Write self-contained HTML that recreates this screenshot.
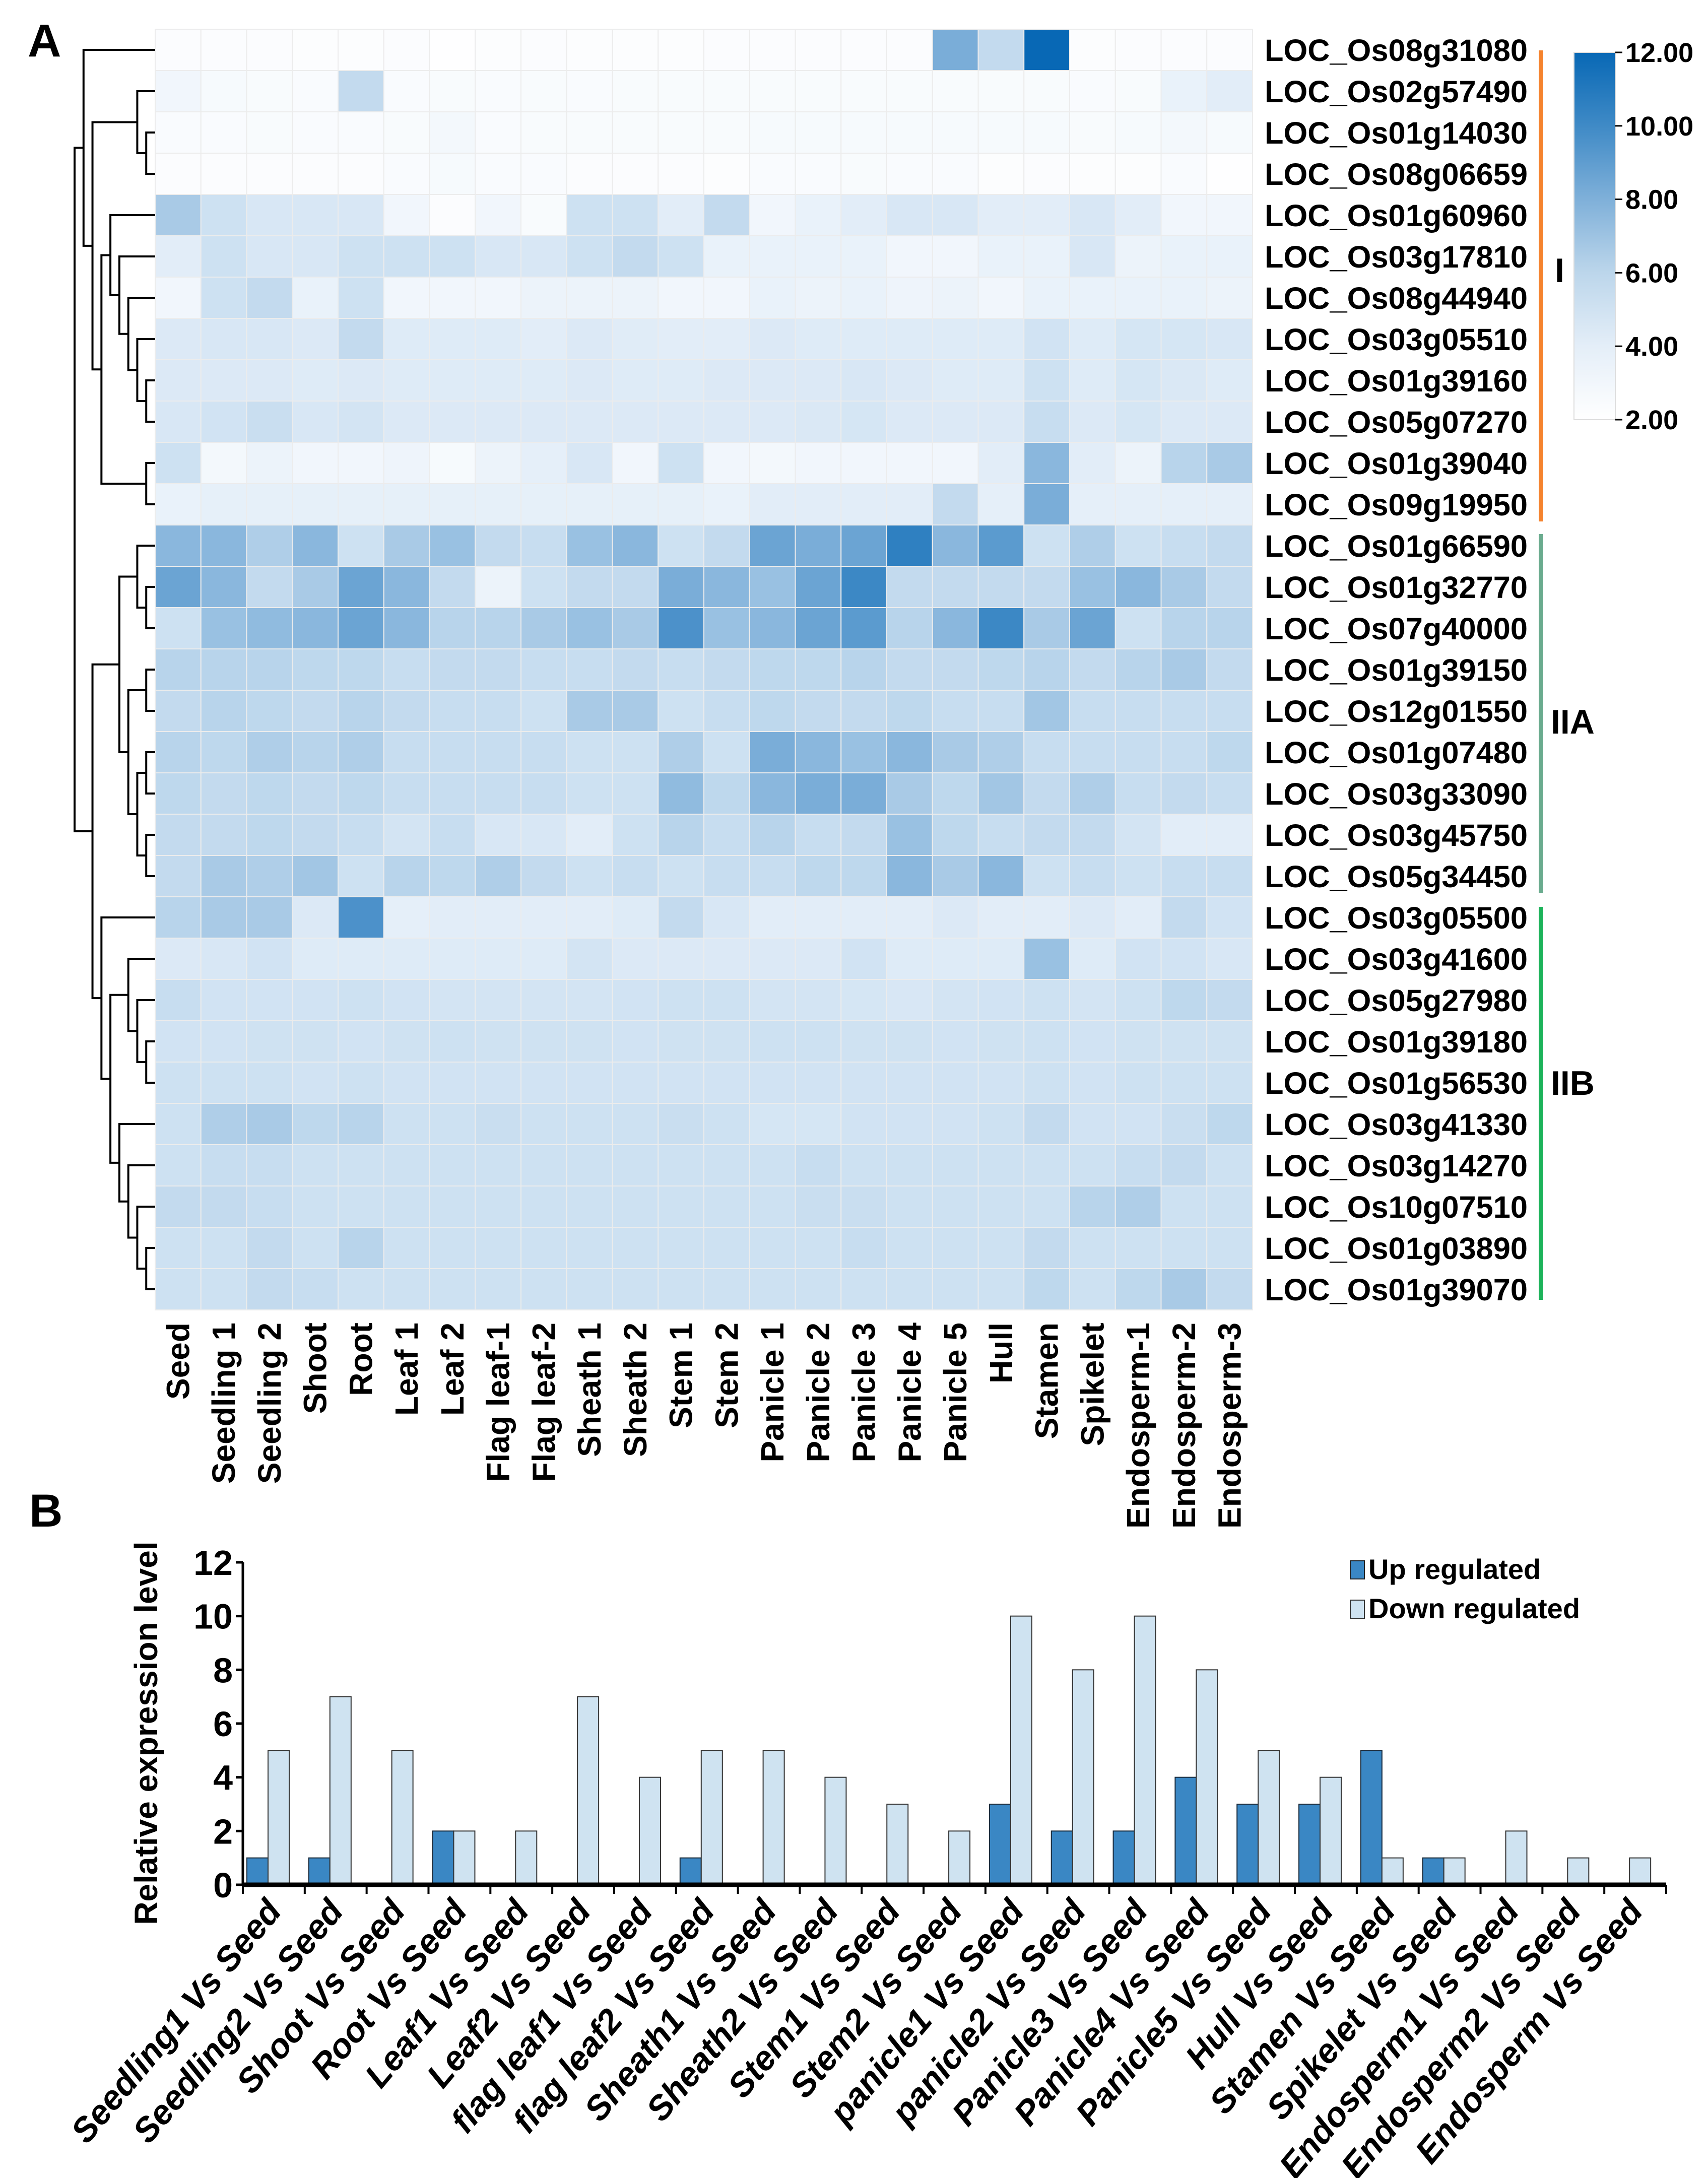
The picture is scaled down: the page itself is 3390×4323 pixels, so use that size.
<!DOCTYPE html>
<html><head><meta charset="utf-8"><style>
html,body{margin:0;padding:0;background:#fff}
svg{display:block}
text{font-family:"Liberation Sans",Arial,sans-serif;font-weight:bold;fill:#000}
</style></head><body>
<svg id="fig" width="3390" height="4323" viewBox="0 0 3390 4323" xmlns="http://www.w3.org/2000/svg">
<defs>
<linearGradient id="cbar" x1="0" y1="1" x2="0" y2="0">
<stop offset="0" stop-color="#ffffff"/><stop offset="0.2" stop-color="#e4eef8"/><stop offset="0.4" stop-color="#bcd6eb"/><stop offset="0.6" stop-color="#7fb0d9"/><stop offset="0.8" stop-color="#3f8ac6"/><stop offset="1" stop-color="#0868b5"/>
</linearGradient>
</defs>
<text x="55" y="112" font-size="92">A</text>
<text x="58" y="3030" font-size="92">B</text>
<g id="heat"></g>
<g id="dendro"></g>
<g id="rowlabels"></g>
<g id="collabels"></g>
<g>
<rect x="3124" y="104" width="82" height="729" fill="url(#cbar)" stroke="#ddd" stroke-width="2"/>
<g id="cbticks"></g>
</g>
<g>
<rect x="3054" y="100" width="9" height="935" fill="#f5832e"/>
<rect x="3054" y="1060" width="9" height="712" fill="#6aab8e"/>
<rect x="3054" y="1800" width="9" height="780" fill="#1db35a"/>
<text x="3086" y="560" font-size="68">I</text>
<text x="3078" y="1456" font-size="68">IIA</text>
<text x="3078" y="2173" font-size="68">IIB</text>
</g>
<g id="barchart"></g>
</svg>
<script>
const genes=["LOC_Os08g31080","LOC_Os02g57490","LOC_Os01g14030","LOC_Os08g06659","LOC_Os01g60960","LOC_Os03g17810","LOC_Os08g44940","LOC_Os03g05510","LOC_Os01g39160","LOC_Os05g07270","LOC_Os01g39040","LOC_Os09g19950","LOC_Os01g66590","LOC_Os01g32770","LOC_Os07g40000","LOC_Os01g39150","LOC_Os12g01550","LOC_Os01g07480","LOC_Os03g33090","LOC_Os03g45750","LOC_Os05g34450","LOC_Os03g05500","LOC_Os03g41600","LOC_Os05g27980","LOC_Os01g39180","LOC_Os01g56530","LOC_Os03g41330","LOC_Os03g14270","LOC_Os10g07510","LOC_Os01g03890","LOC_Os01g39070"];
const tissues=["Seed","Seedling 1","Seedling 2","Shoot","Root","Leaf 1","Leaf 2","Flag leaf-1","Flag leaf-2","Sheath 1","Sheath 2","Stem 1","Stem 2","Panicle 1","Panicle 2","Panicle 3","Panicle 4","Panicle 5","Hull","Stamen","Spikelet","Endosperm-1","Endosperm-2","Endosperm-3"];
const expr=[
[2.3,2.3,2.3,2.2,2.2,2.3,2.1,2.2,2.3,2.2,2.2,2.2,2.3,2.3,2.3,2.3,2.3,8,5.5,12,2.2,2.3,2.3,2.3],
[3,2.6,2.5,2.4,5.5,2.4,2.5,2.4,2.5,2.4,2.5,2.5,2.5,2.5,2.5,2.5,2.5,2.5,2.5,2.5,2.4,2.5,3.5,4],
[2.4,2.4,2.5,2.4,2.4,2.5,2.8,2.4,2.5,2.5,2.5,2.5,2.5,2.6,2.6,2.6,2.6,2.6,2.6,2.6,2.5,2.6,2.8,2.6],
[2.3,2.3,2.3,2.3,2.3,2.4,2.6,2.4,2.4,2.3,2.3,2.3,2.2,2.4,2.4,2.5,2.4,2.4,2.2,2.3,2.2,2.2,2.4,2.1],
[6.5,5,4.5,4.5,4.5,3,2.3,3,2.5,5,5,4,5.5,3,3.5,4,4.5,4.5,4,4,4.5,4,3,3],
[4,5,4.5,4.5,5,5,5,4.5,4.5,5,5.5,5,3.5,3.5,3.5,3.5,3,3,3.5,3.5,4.5,3.3,3.5,3.5],
[3,5,5.5,3.5,5,3,3,3,3.3,3.3,3.3,3,3,3.5,3.3,3.5,3.2,3.3,3,3.5,3.5,3.5,3.5,3.3],
[4.3,4.5,4.5,4.3,5.5,4.2,4.2,4.2,4,4.3,4.1,4,4,4.3,4.2,4.2,4.2,4.2,4.2,4.8,4.2,4.6,4.6,4.5],
[4.3,4.3,4.3,4.2,4.3,4.2,4.2,4.2,4.2,4.3,4.2,4.2,4.3,4.3,4.3,4.5,4.3,4.2,4.2,5,4.2,4.6,4.4,4.2],
[4.5,4.8,5.2,4.5,4.7,4.3,4.3,4.3,4.3,4.3,4.3,4.3,4.3,4.3,4.4,4.6,4.3,4.3,4.3,5.3,4.3,4.6,4.3,4.3],
[5,2.8,3.3,3,3,3.2,2.6,3.3,3.8,4.5,3,5,3,2.8,3,3,3,3,4,7.5,4,3.3,6,6.5],
[3.5,3.7,3.7,3.7,3.7,3.7,3.7,3.7,3.7,3.7,3.7,3.7,3.5,4,4,4,4,5.5,3.8,8,3.8,3.8,3.8,3.8],
[7.5,7.5,6.3,7.5,5,6.5,7,5.5,5.3,7,7.5,5,5.5,8.5,8,8.5,10.5,7.5,9,5,6.3,5,5.3,5.5],
[8.5,7.5,5.5,6.5,8.5,7.5,5.5,3.3,5,5.5,5.5,8,7.5,7,8.5,10,5.5,5.5,5.5,5.5,7,7.5,6.5,5.5],
[5,7,7.3,7.5,8.5,7.5,6,6,6.5,7,6.5,9.5,7,7.5,8.5,9,6,7.5,10,6.5,8.5,5,6,6],
[6,6,6,5.7,5.7,5.3,5.5,5.5,5.3,5.3,5.5,5.3,5.5,5.7,5.7,6,5.5,5.5,5.7,6,5.5,6,6.5,5.5],
[5.5,6,5.7,5.5,6,5.5,5.3,5.3,5,6.5,6.5,5,5.3,5.7,5.5,5.5,5.7,5.3,5.3,6.7,5.3,5.3,5.3,5.3],
[6,5.7,6.3,6,6.3,5.3,5.3,5.3,5.3,5,5,6.3,5,8,7.5,7,7.5,6.5,6.3,5.3,5.3,5.3,5.3,5.7],
[5.7,5.5,5.7,5.5,5.7,5.3,5.3,5.3,5.3,5,5,7.3,5.7,7.5,8,8,6.5,5.7,6.7,5.5,6.3,5.3,5.5,5.3],
[5.5,5.5,5.7,5.5,5.3,4.7,5.3,4.5,4.5,4,5,6,5.3,6,5.3,5.5,7,5.7,5.3,5.5,5.5,4.7,4,4],
[5.5,6.5,6.3,6.7,5,6,5.7,6.3,5.5,5,5.3,5,5.3,5.3,5.7,5.7,7.5,6.5,7.5,5,5.3,5,5.3,5.3],
[6,6.5,6.5,4.3,9.5,3.8,4,4,4,4,4.2,5.5,4.5,4,4,4,4,4.3,4,4,4.3,4,5.5,4.8],
[4.3,4.5,4.8,4.2,4.2,4.2,4.2,4.2,4.2,4.7,4.3,4.3,4.3,4.3,4.3,4.8,4.2,4.2,4.2,7,4.2,4.8,4.8,4.5],
[5.3,4.8,4.8,4.8,5,4.8,4.7,4.7,4.7,4.7,4.8,5,5,4.7,4.7,4.6,4.5,4.7,4.8,5,4.7,5,5.7,5.5],
[4.8,4.8,4.9,4.9,4.8,4.9,5,4.9,4.9,4.9,4.8,4.9,4.9,5,5,4.9,4.9,4.8,4.9,5,4.8,4.9,4.9,4.9],
[5,5,5,4.8,5,4.8,4.8,4.8,4.8,4.8,4.8,4.8,4.8,4.8,4.8,4.8,4.8,4.8,4.8,5,4.8,5,5,5],
[5,6.3,6.5,5.7,6,5,5,5.2,5,5,5,5.2,5,4.6,4.6,4.8,4.8,4.8,5,5.5,4.8,4.8,5.2,5.7],
[5,5.3,5.3,5,5,5,5,5,5,5,5,5,5,5,5.3,5,5,5,5,5,5,5.3,5.5,5],
[5.5,5.5,5.3,5,5,5,5,5,5,5,5,5,5,5,5.2,5.2,5,5,5,5,6,6.3,5,5],
[5,5,5.5,5,6,5,5,5,5,5,5,5,5,5,5,5.3,5,5,5,5.5,5,5,5,5],
[5,5,5.5,5.3,5,5,5,5,5,5,5,5,5,5,5,5,5,5,5,5.7,5,5.7,6.5,5.5]];
const cbarTicks=["2.00","4.00","6.00","8.00","10.00","12.00"];
const compLabels=["Seedling1 Vs Seed","Seedling2 Vs Seed","Shoot Vs Seed","Root Vs Seed","Leaf1 Vs Seed","Leaf2 Vs Seed","flag leaf1 Vs Seed","flag leaf2 Vs Seed","Sheath1 Vs Seed","Sheath2 Vs Seed","Stem1 Vs Seed","Stem2 Vs Seed","panicle1 Vs Seed","panicle2 Vs Seed","Panicle3 Vs Seed","Panicle4 Vs Seed","Panicle5 Vs Seed","Hull Vs Seed","Stamen Vs Seed","Spikelet Vs Seed","Endosperm1 Vs Seed","Endosperm2 Vs Seed","Endosperm Vs Seed"];
const upVals=[1,1,0,2,0,0,0,1,0,0,0,0,3,2,2,4,3,3,5,1,0,0,0];
const downVals=[5,7,5,2,2,7,4,5,5,4,3,2,10,8,10,8,5,4,1,1,2,1,1];
const yTicks=[0,2,4,6,8,10,12];

const NS="http://www.w3.org/2000/svg";
function mk(tag,attrs,parent,txt){const e=document.createElementNS(NS,tag);for(const k in attrs)e.setAttribute(k,attrs[k]);if(txt!==undefined)e.textContent=txt;parent.appendChild(e);return e;}
const stops=[[2,[255,255,255]],[4,[226,237,248]],[6,[184,212,235]],[8,[122,173,216]],[10,[60,136,197]],[12,[8,104,181]]];
function color(v){v=Math.max(2,Math.min(12,v));for(let i=0;i<stops.length-1;i++){const[a,ca]=stops[i],[b,cb]=stops[i+1];if(v<=b){const t=(v-a)/(b-a);return "rgb("+ca.map((c,j)=>Math.round(c+(cb[j]-c)*t)).join(",")+")";}}return "rgb(8,104,181)";}
const HX0=308,HY0=58,CW=(2486-308)/24,RH=82;
const hx=i=>HX0+i*CW, hy=r=>HY0+r*RH;
const heat=document.getElementById('heat');
expr.forEach((row,r)=>row.forEach((v,c)=>{
  const e=mk('rect',{x:hx(c),y:hy(r),width:CW,height:RH,fill:color(v),stroke:'#ececec','stroke-width':2},heat);
  
  
}));
const rl=document.getElementById('rowlabels');
genes.forEach((g,r)=>{
  const t=mk('text',{x:2510,y:hy(r)+RH/2+22,'font-size':61,textLength:522,lengthAdjust:'spacingAndGlyphs'},rl,g);
  
  
});
const cl=document.getElementById('collabels');
tissues.forEach((s,c)=>{
  const x=hx(c)+CW/2+22,y=2625;
  const t=mk('text',{x:x,y:y,'font-size':64,'text-anchor':'end',transform:`rotate(-90 ${x} ${y})`},cl,s);
  
  
});
const cbt=document.getElementById('cbticks');
cbarTicks.forEach((s,i)=>{
  const y=833-i*(729/5);
  mk('line',{x1:3206,y1:y,x2:3220,y2:y,stroke:'#000','stroke-width':3},cbt);
  const t=mk('text',{x:3226,y:y+19,'font-size':54},cbt,s);
  
  
});
const tree=[[0,[[1,[2,3]],[[4,[5,[6,[7,[8,9]]]]],[10,11]]]],[[[12,[13,14]],[[15,16],[[17,18],[19,20]]]],[21,[[22,[23,[24,25]]],[26,[27,[28,[29,30]]]]]]]];
const dg=document.getElementById('dendro');
function depth(n){return typeof n==='number'?0:1+Math.max(depth(n[0]),depth(n[1]));}
const maxD=depth(tree);
const dx=d=>308-d*(308-148)/maxD;
function draw(n){
  if(typeof n==='number')return{y:hy(n)+RH/2,x:308};
  const a=draw(n[0]),b=draw(n[1]);const x=dx(depth(n));
  mk('path',{d:`M${a.x} ${a.y}H${x}V${b.y}H${b.x}`,fill:'none',stroke:'#000','stroke-width':4},dg);
  return{y:(a.y+b.y)/2,x:x};
}
draw(tree);
const bc=document.getElementById('barchart');
const AX=482,AX1=3307,BY=3741,UNIT=(3741-3101)/12,GW=(AX1-AX)/compLabels.length;
const by=v=>BY-v*UNIT;
yTicks.forEach(v=>{
  mk('line',{x1:AX-14,y1:by(v),x2:AX,y2:by(v),stroke:'#000','stroke-width':5},bc);
  const t=mk('text',{x:AX-20,y:by(v)+25,'font-size':70,'text-anchor':'end'},bc,String(v));
  
  
});
compLabels.forEach((s,i)=>{
  const gx=AX+i*GW;
  if(upVals[i]>0){const r=mk('rect',{x:gx+8,y:by(upVals[i]),width:42,height:upVals[i]*UNIT,fill:'#3a87c4',stroke:'#1a2a3a','stroke-width':2},bc);
    
    }
  if(downVals[i]>0){const r=mk('rect',{x:gx+50,y:by(downVals[i]),width:42,height:downVals[i]*UNIT,fill:'#cfe3f1',stroke:'#333','stroke-width':2},bc);
    
    }
  mk('line',{x1:gx,y1:BY,x2:gx,y2:BY+18,stroke:'#000','stroke-width':4},bc);
  const cx=gx+GW/2+18,cy=3795;
  const t=mk('text',{x:cx,y:cy,'font-size':68,'font-style':'italic','text-anchor':'end',transform:`rotate(-50 ${cx} ${cy})`},bc,s);
  
  
});
mk('line',{x1:AX1,y1:BY,x2:AX1,y2:BY+18,stroke:'#000','stroke-width':4},bc);
mk('line',{x1:AX,y1:by(12),x2:AX,y2:BY,stroke:'#000','stroke-width':5},bc);
mk('line',{x1:AX,y1:BY,x2:AX1,y2:BY,stroke:'#000','stroke-width':9},bc);
const yt=mk('text',{x:312,y:3440,'font-size':64,'text-anchor':'middle',transform:'rotate(-90 312 3440)'},bc,'Relative expression level');


const lg=mk('g',{},bc);


mk('rect',{x:2680,y:3098,width:28,height:36,fill:'#3a87c4',stroke:'#222','stroke-width':2},lg);
mk('text',{x:2716,y:3134,'font-size':56},lg,'Up regulated');
mk('rect',{x:2680,y:3176,width:28,height:36,fill:'#cfe3f1',stroke:'#333','stroke-width':2},lg);
mk('text',{x:2716,y:3212,'font-size':56},lg,'Down regulated');
</script>
</body></html>
